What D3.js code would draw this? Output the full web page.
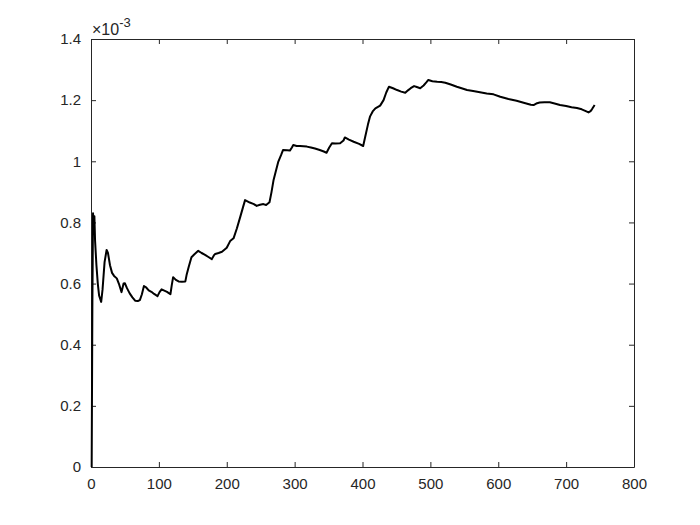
<!DOCTYPE html>
<html>
<head>
<meta charset="utf-8">
<script src="https://cdn.jsdelivr.net/npm/d3@7"></script>
<style>
  html, body { margin: 0; padding: 0; background: #fff; }
  svg { display: block; }
  text { font-family: "Liberation Sans", Arial, Helvetica, sans-serif; }
</style>
</head>
<body>
<svg id="chart" width="700" height="525"></svg>
<script>
// Data (y values in units of 1e-3)
const xValues = [1,2,3,4,5,6,8,10,12,15,17,20,23,25,28,31,34,38,41,45,48,50,53,57,61,65,69,72,75,78,81,85,89,93,98,101,104,108,112,117,119,121,125,129,134,139,141,144,148,152,158,163,168,173,178,181,183,188,193,200,205,210,215,220,224,227,234,240,244,249,254,258,263,266,269,272,276,280,283,289,293,296,298,303,308,318,324,330,337,343,347,351,355,360,367,372,374,380,387,395,401,404,408,411,415,419,426,431,435,439,445,451,457,463,467,471,476,480,485,490,494,497,503,510,516,522,530,539,546,554,563,573,583,593,603,615,627,640,648,652,656,661,668,676,683,691,700,708,716,723,729,733,736,738,742];
const yValues = [0,0.52,0.83,0.78,0.82,0.74,0.66,0.60,0.56,0.54,0.58,0.67,0.71,0.70,0.66,0.635,0.625,0.617,0.60,0.572,0.60,0.601,0.585,0.568,0.555,0.544,0.543,0.546,0.565,0.592,0.588,0.578,0.573,0.566,0.559,0.572,0.581,0.577,0.573,0.565,0.595,0.621,0.612,0.607,0.606,0.607,0.630,0.655,0.686,0.695,0.707,0.700,0.694,0.687,0.680,0.692,0.697,0.700,0.704,0.717,0.739,0.748,0.781,0.819,0.850,0.873,0.865,0.860,0.854,0.858,0.860,0.857,0.866,0.900,0.939,0.965,0.999,1.020,1.037,1.036,1.035,1.045,1.053,1.050,1.050,1.048,1.045,1.042,1.037,1.032,1.028,1.045,1.059,1.058,1.059,1.068,1.078,1.071,1.064,1.057,1.050,1.080,1.120,1.146,1.163,1.173,1.182,1.200,1.225,1.244,1.239,1.233,1.228,1.224,1.232,1.239,1.246,1.243,1.239,1.248,1.258,1.266,1.262,1.260,1.259,1.257,1.251,1.244,1.239,1.233,1.230,1.226,1.222,1.219,1.211,1.204,1.198,1.190,1.185,1.184,1.189,1.192,1.193,1.193,1.189,1.184,1.181,1.177,1.174,1.170,1.164,1.160,1.164,1.170,1.184];
const xTicks = [0,100,200,300,400,500,600,700,800];
const yTicks = [0,0.2,0.4,0.6,0.8,1,1.2,1.4];
const yTickLabels = ["0","0.2","0.4","0.6","0.8","1","1.2","1.4"];
const exponentLabel = "-3";

const svg = d3.select("#chart");
const L = 91, R = 634, T = 39, B = 467;
const axisColor = "#262626";

svg.append("rect").attr("width", 700).attr("height", 525).attr("fill", "#fff");

const x = d3.scaleLinear().domain([0, 800]).range([L, R]);
const y = d3.scaleLinear().domain([0, 1.4]).range([B, T]);

const tickLen = 5;

const gx = svg.append("g").attr("transform", `translate(0,${B})`)
  .call(d3.axisBottom(x).tickValues(xTicks).tickSizeInner(-tickLen).tickSizeOuter(0).tickPadding(11).tickFormat(d3.format("d")));
const gy = svg.append("g").attr("transform", `translate(${L},0)`)
  .call(d3.axisLeft(y).tickValues(yTicks).tickSizeInner(-tickLen).tickSizeOuter(0).tickPadding(10).tickFormat((d, i) => yTickLabels[i]));
const gt = svg.append("g").attr("transform", `translate(0,${T})`)
  .call(d3.axisTop(x).tickValues(xTicks).tickSizeInner(-tickLen).tickSizeOuter(0).tickFormat(""));
const gr = svg.append("g").attr("transform", `translate(${R},0)`)
  .call(d3.axisRight(y).tickValues(yTicks).tickSizeInner(-tickLen).tickSizeOuter(0).tickFormat(""));

[gx, gy, gt, gr].forEach(g => {
  g.selectAll("path.domain").attr("stroke", axisColor).attr("stroke-width", 1);
  g.selectAll(".tick line").attr("stroke", axisColor).attr("stroke-width", 1);
  g.selectAll(".tick text").attr("fill", axisColor).style("font-size", "15px")
    .style("font-family", '"Liberation Sans", Arial, sans-serif');
});

// exponent label
const ex = svg.append("text").attr("x", L + 1).attr("y", T - 4).attr("fill", axisColor)
  .style("font-size", "16px");
ex.append("tspan").text("\u00d710");
ex.append("tspan").attr("dy", -8).style("font-size", "13px").text(exponentLabel);

// data line
const data = xValues.map((d, i) => [d, yValues[i]]);
svg.append("path").datum(data)
  .attr("fill", "none").attr("stroke", "#000").attr("stroke-width", 2)
  .attr("stroke-linejoin", "round")
  .attr("d", d3.line().x(d => x(d[0])).y(d => y(d[1])));
</script>
</body>
</html>
